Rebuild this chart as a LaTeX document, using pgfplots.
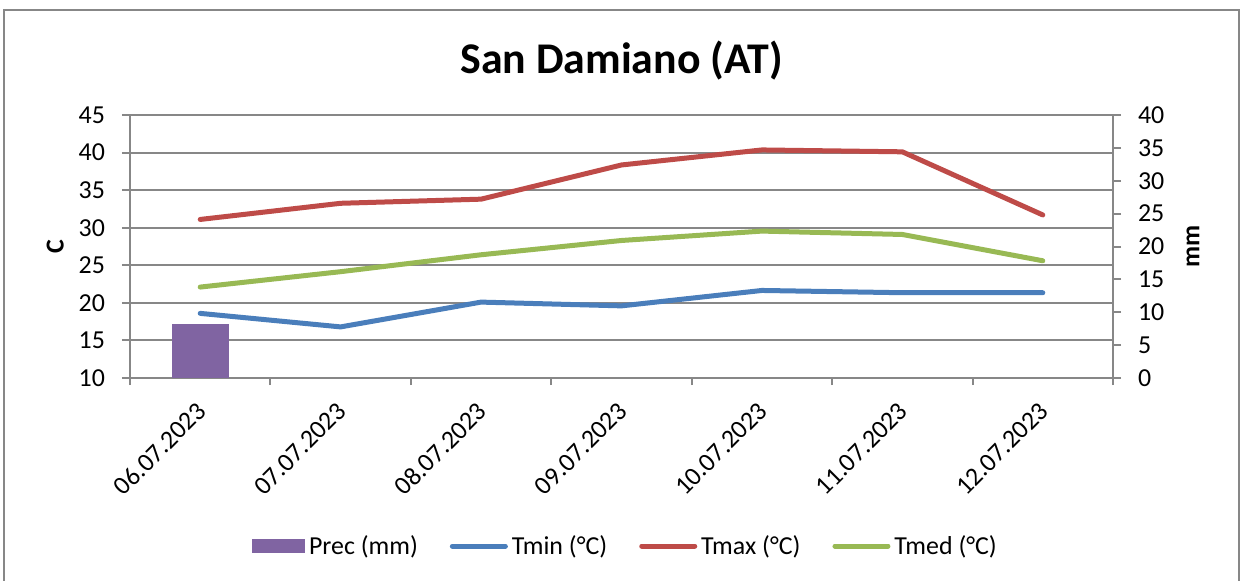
\documentclass[border=0pt]{standalone}
\usepackage{fontspec}
\setmainfont{Carlito}
\usepackage{pgfplots}
\pgfplotsset{compat=1.18}
\definecolor{tmin}{HTML}{4A7EBB}
\definecolor{tmax}{HTML}{BE4B48}
\definecolor{tmed}{HTML}{98B954}
\definecolor{prec}{HTML}{8064A2}
\definecolor{gridc}{HTML}{878787}
\newcommand{\tf}{\fontsize{13}{15}\selectfont}
\begin{document}
\begin{tikzpicture}
\useasboundingbox (-65bp,-101.5bp) rectangle (555bp,189bp);
\draw[gridc, line width=1bp] (-63bp,-130bp) rectangle (554.5bp,184bp);
\begin{axis}[
  scale only axis, width=491.5bp, height=131.5bp,
  at={(0,0)}, anchor=south west,
  xmin=-0.5, xmax=6.5, ymin=10, ymax=45,
  axis y line*=left, axis x line*=bottom,
  axis line style={-, gridc, line width=1bp},
  xtick={0,...,6},
  xticklabels={06.07.2023,07.07.2023,08.07.2023,09.07.2023,10.07.2023,11.07.2023,12.07.2023},
  minor xtick={-0.5,0.5,...,6.5},
  ytick={10,15,...,45},
  ymajorgrids, grid style={gridc, line width=1bp},
  tick align=outside, major tick length=4bp, minor tick length=3.5bp,
  major x tick style={draw=none},
  minor x tick style={gridc, line width=1bp},
  y tick style={gridc, line width=1bp},
  tick label style={font=\tf, /pgf/number format/assume math mode=true},
  yticklabel style={xshift=-5bp},
  xticklabel style={anchor=east, xshift=3bp, yshift=-8bp, rotate=45},
  ylabel={\textbf{C}},
  ylabel style={font=\tf, at={(axis description cs:-0.076,0.5)}, anchor=center},
  title={San Damiano (AT)},
  title style={font=\fontsize{22}{26}\selectfont\bfseries, at={(axis description cs:0.5,1.163)}, anchor=center},
  clip=false,
]
\addplot[tmin, line width=2.5bp, line cap=round, line join=round] coordinates {
  (0,18.6) (1,16.8) (2,20.1) (3,19.6) (4,21.65) (5,21.35) (6,21.35)};
\addplot[tmax, line width=2.5bp, line cap=round, line join=round] coordinates {
  (0,31.1) (1,33.25) (2,33.8) (3,38.35) (4,40.35) (5,40.1) (6,31.7)};
\addplot[tmed, line width=2.5bp, line cap=round, line join=round] coordinates {
  (0,22.1) (1,24.15) (2,26.4) (3,28.3) (4,29.55) (5,29.1) (6,25.6)};
\end{axis}
\begin{axis}[
  scale only axis, width=491.5bp, height=131.5bp,
  at={(0,0)}, anchor=south west,
  xmin=-0.5, xmax=6.5, ymin=0, ymax=40,
  axis y line*=right, axis x line=none,
  axis line style={-, gridc, line width=1bp},
  ytick={0,5,...,40},
  tick align=outside, major tick length=4bp,
  y tick style={gridc, line width=1bp},
  tick label style={font=\tf, /pgf/number format/assume math mode=true},
  yticklabel style={xshift=5bp},
  ylabel={\textbf{mm}},
  ylabel style={font=\tf, at={(axis description cs:1.0814,0.5)}, anchor=center},
  legend columns=4,
  legend style={at={(axis description cs:0.505,-0.639)}, anchor=center, draw=none,
    font=\tf, /tikz/every even column/.append style={column sep=14bp},
    /tikz/every odd column/.append style={column sep=0bp}},
]
\addplot[ybar, bar width=28.5bp, fill=prec, draw=none,
  legend image code/.code={\fill[prec] (0bp,-3.5bp) rectangle (26.5bp,3.5bp);}]
  coordinates {(0,8.2)};
\addlegendentry{Prec (mm)}
\addlegendimage{legend image code/.code={\draw[tmin, line width=2.5bp, line cap=round] (0bp,0bp) -- (26.5bp,0bp);}}
\addlegendentry{Tmin (°C)}
\addlegendimage{legend image code/.code={\draw[tmax, line width=2.5bp, line cap=round] (0bp,0bp) -- (26.5bp,0bp);}}
\addlegendentry{Tmax (°C)}
\addlegendimage{legend image code/.code={\draw[tmed, line width=2.5bp, line cap=round] (0bp,0bp) -- (26.5bp,0bp);}}
\addlegendentry{Tmed (°C)}
\end{axis}
\end{tikzpicture}
\end{document}
